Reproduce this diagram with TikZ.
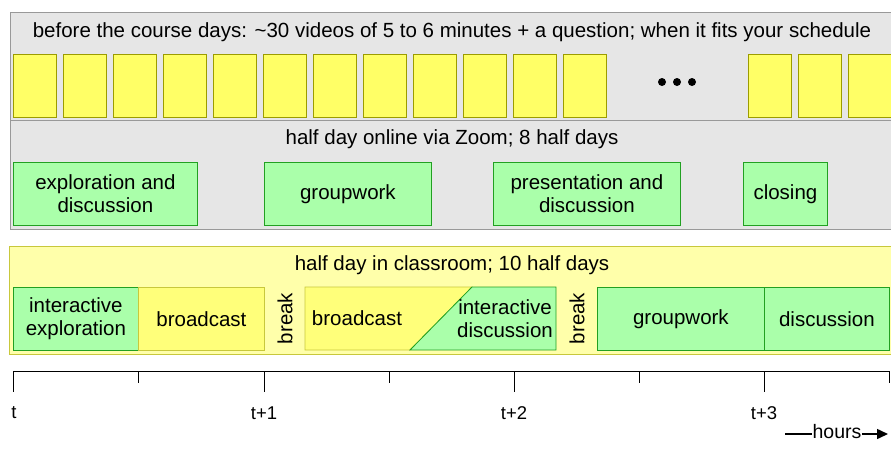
\documentclass[tikz,border=0pt]{standalone}
\usepackage{fontspec}
\setmainfont{Liberation Sans}
\usetikzlibrary{arrows.meta}
\definecolor{grayfill}{HTML}{E6E6E6}
\definecolor{grayline}{HTML}{999999}
\definecolor{vidfill}{HTML}{FFFF66}
\definecolor{vidline}{HTML}{9C9C00}
\definecolor{greenfill}{HTML}{AAFFAA}
\definecolor{greenline}{HTML}{22A022}
\definecolor{classfill}{HTML}{FFFFAA}
\definecolor{classline}{HTML}{C8C83C}
\begin{document}
\begin{tikzpicture}[x=1pt,y=-1pt,line width=0.8pt,
    font=\fontsize{20.5}{23.5}\selectfont,
    video/.style={draw=vidline,fill=vidfill,anchor=north west,inner sep=0,
      minimum width=43pt,minimum height=63pt},
    online/.style={draw=greenline,fill=greenfill,anchor=north west,inner sep=0,
      minimum height=63pt,align=center},
    classyellow/.style={draw=classline,fill=vidfill!70!classfill,anchor=north west,inner sep=0,
      minimum height=63pt,align=center},
    classgreen/.style={draw=greenline,fill=greenfill,anchor=north west,inner sep=0,
      minimum height=63pt,align=center},
    ticklabel/.style={font=\fontsize{18.5}{21}\selectfont}]
    \useasboundingbox (0,0) rectangle (891,451);
    % before the course days
    \draw[grayline,fill=grayfill] (10,12) rectangle (895,229);
    \draw[grayline] (10,120.5) -- (895,120.5);
    \node (pretitle) at (452,32) {before the course days: \textasciitilde30 videos of 5 to 6 minutes + a question; when it fits your schedule};
    \foreach \i in {0,...,11}
        \node[video] (v\i) at (13+50*\i,54) {};
    \foreach \i in {12,13,14}
        \node[video] (v\i) at (148+50*\i,54) {};
    \foreach \x in {662,677,692}
        \fill (\x,82) circle (4);
    % online half days
    \node (onlinetitle) at (452,139) {half day online via Zoom; 8 half days};
    \node[online,minimum width=184pt] (explore) at (13,162) {exploration and\\discussion};
    \node[online,minimum width=167pt] (groupon) at (264,162) {groupwork};
    \node[online,minimum width=187pt] (present) at (493,162) {presentation and\\discussion};
    \node[online,minimum width=84pt] (closing) at (743,162) {closing};
    % classroom half days
    \draw[classline,fill=classfill] (9,246) rectangle (895,354);
    \node (classtitle) at (452,265) {half day in classroom; 10 half days};
    \node[classgreen,minimum width=125pt] (interexpl) at (13,287) {interactive\\exploration};
    \node[classyellow,minimum width=126pt] (bcast1) at (138,287) {broadcast};
    \node[rotate=90] (break1) at (285,318.5) {break};
    \filldraw[classline,fill=vidfill!70!classfill] (305,287) -- (472,287) -- (410,350) -- (305,350) -- cycle;
    \filldraw[greenline,fill=greenfill] (472,287) -- (556,287) -- (556,350) -- (410,350) -- cycle;
    \node (bcast2) at (357,318.5) {broadcast};
    \node[align=center] (interdisc) at (505,318.5) {interactive\\discussion};
    \node[rotate=90] (break2) at (577,318.5) {break};
    \node[classgreen,minimum width=167pt] (groupcl) at (597,287) {groupwork};
    \node[classgreen,minimum width=125pt] (disccl) at (764,287) {discussion};
    % time axis
    \draw (13,371) -- (889,371);
    \foreach \x in {13,264,514,764}
        \draw (\x,371) -- (\x,392);
    \foreach \x in {138,389,639,889}
        \draw (\x,371) -- (\x,383);
    \node[ticklabel] (t0) at (14,413) {t};
    \node[ticklabel] (t1) at (264,413) {t+1};
    \node[ticklabel] (t2) at (514,413) {t+2};
    \node[ticklabel] (t3) at (764,413) {t+3};
    \node[font=\fontsize{19.5}{21}\selectfont,inner sep=0] (hours) at (837,432) {hours};
    \coordinate (hstart) at (785,434);
    \coordinate (hend) at (888,434);
    \draw[line width=1.5pt] (hstart) -- (hours.west |- hstart);
    \draw[line width=1.5pt,-{Triangle[length=11pt,width=10pt]}] (hours.east |- hend) -- (hend);
\end{tikzpicture}
\end{document}
